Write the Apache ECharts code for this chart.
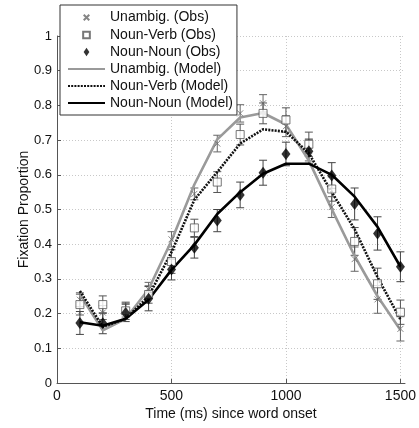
<!DOCTYPE html>
<html>
<head>
<meta charset="utf-8">
<script src="https://cdn.jsdelivr.net/npm/echarts@6/dist/echarts.min.js"></script>
<style>
html,body{margin:0;padding:0;background:#fff;}
#chart{width:419px;height:428px;}
</style>
</head>
<body>
<div id="chart"></div>
<script>
var times = [100,200,300,400,500,600,700,800,900,1000,1100,1200,1300,1400,1500];

var unambigObs = [0.24,0.203,0.21,0.27,0.414,0.545,0.69,0.777,0.806,0.74,0.67,0.507,0.357,0.241,0.156];
var nounVerbObs = [0.226,0.226,0.208,0.255,0.35,0.447,0.579,0.716,0.777,0.758,0.688,0.559,0.408,0.286,0.204];
var nounNounObs = [0.173,0.172,0.202,0.243,0.327,0.39,0.468,0.542,0.606,0.66,0.668,0.598,0.516,0.431,0.335];

var unambigErr = [0.02,0.02,0.02,0.02,0.022,0.017,0.024,0.025,0.025,0.03,0.03,0.03,0.035,0.04,0.035];
var nounVerbErr = [0.03,0.025,0.025,0.025,0.034,0.025,0.03,0.03,0.03,0.035,0.035,0.035,0.04,0.045,0.035];
var nounNounErr = [0.033,0.03,0.025,0.035,0.03,0.03,0.032,0.037,0.036,0.034,0.035,0.037,0.046,0.048,0.043];

var unambigModel = [0.255,0.152,0.185,0.27,0.41,0.572,0.702,0.765,0.778,0.745,0.641,0.501,0.366,0.25,0.153];
var nounVerbModel = [0.265,0.162,0.185,0.25,0.377,0.528,0.608,0.69,0.731,0.724,0.662,0.55,0.443,0.305,0.183];
var nounNounModel = [0.175,0.165,0.185,0.24,0.326,0.398,0.487,0.55,0.603,0.632,0.632,0.6,0.537,0.45,0.335];

var xTicks = [0,500,1000,1500];
var yTicks = [0,0.1,0.2,0.3,0.4,0.5,0.6,0.7,0.8,0.9,1];

var names = ['Unambig. (Obs)','Noun-Verb (Obs)','Noun-Noun (Obs)','Unambig. (Model)','Noun-Verb (Model)','Noun-Noun (Model)'];

function pairs(vals){ return times.map(function(t,i){ return [t, vals[i]]; }); }
function errData(vals, errs){ return times.map(function(t,i){ return [t, vals[i], errs[i]]; }); }

function errSeries(vals, errs, color){
  return {
    type:'custom', silent:true, z:3,
    data: errData(vals, errs),
    renderItem: function(params, api){
      var x = api.value(0), v = api.value(1), e = api.value(2);
      var top = api.coord([x, v+e]);
      var bot = api.coord([x, v-e]);
      var w = 4;
      var st = {stroke: color, lineWidth: 1, fill: null};
      return {type:'group', children:[
        {type:'line', shape:{x1:top[0], y1:top[1], x2:bot[0], y2:bot[1]}, style:st},
        {type:'line', shape:{x1:top[0]-w, y1:top[1], x2:top[0]+w, y2:top[1]}, style:st},
        {type:'line', shape:{x1:bot[0]-w, y1:bot[1], x2:bot[0]+w, y2:bot[1]}, style:st}
      ]};
    }
  };
}

var hidden = {color:'rgba(0,0,0,0)', borderColor:'rgba(0,0,0,0)', borderWidth:0};
var legendData = [
  {name:names[0], icon:'path://M-4,-4M0,0L10,10M0,10L10,0M14,14'},
  {name:names[1], icon:'path://M-2.5,-2.5M0,0L10,0L10,10L0,10ZM12.5,12.5'},
  {name:names[2], icon:'path://M4,-1M4,0L8,6L4,12L0,6ZM4,13'},
  {name:names[3], itemStyle:hidden},
  {name:names[4], itemStyle:hidden},
  {name:names[5], itemStyle:hidden}
];

var chart = echarts.init(document.getElementById('chart'), null, {renderer:'canvas'});
var font = 'Liberation Sans, Arial, sans-serif';
chart.setOption({
  animation:false,
  backgroundColor:'#fff',
  textStyle:{fontFamily:font},
  grid:{left:57, right:13, top:36, bottom:45, containLabel:false},
  legend:{
    data:legendData, orient:'vertical', left:60, top:5,
    itemWidth:37, itemHeight:10, itemGap:3,
    symbolKeepAspect:true,
    padding:[5,4,5,7],
    borderColor:'#333', borderWidth:1, backgroundColor:'#fff',
    textStyle:{fontSize:14, color:'#111', fontFamily:font},
    z:20
  },
  xAxis:{
    type:'value', min:0, max:1520,
    name:'Time (ms) since word onset', nameLocation:'middle', nameGap:24,
    nameMoveOverlap:false,
    nameTextStyle:{fontSize:14, color:'#111', fontFamily:font},
    axisLine:{show:true, onZero:false, lineStyle:{color:'#555', width:1}},
    axisTick:{show:true, inside:true, length:4, customValues:xTicks, lineStyle:{color:'#555'}},
    axisLabel:{fontSize:14, color:'#111', margin:6, customValues:xTicks, fontFamily:font,
      formatter:function(v){ return String(v); }},
    splitLine:{show:true, lineStyle:{color:'#c8c8c8', type:[1,2], width:1}}
  },
  yAxis:{
    type:'value', min:0, max:1, interval:0.1,
    name:'Fixation Proportion', nameLocation:'middle', nameGap:26,
    nameMoveOverlap:false,
    nameTextStyle:{fontSize:14, color:'#111', fontFamily:font},
    axisLine:{show:true, onZero:false, lineStyle:{color:'#555', width:1}},
    axisTick:{show:true, inside:true, length:4, lineStyle:{color:'#555'}},
    axisLabel:{fontSize:13, color:'#111', margin:5, fontFamily:font,
      formatter:function(v){ return String(Math.round(v*10)/10); }},
    splitLine:{show:true, lineStyle:{color:'#c8c8c8', type:[1,2], width:1}}
  },
  series:[
    {name:names[0], type:'scatter', z:5, data:pairs(unambigObs),
      symbol:'path://M0,0L10,10M0,10L10,0', symbolSize:6,
      itemStyle:{color:'none', borderColor:'#666', borderWidth:1}},
    {name:names[1], type:'scatter', z:5, data:pairs(nounVerbObs),
      symbol:'rect', symbolSize:8,
      itemStyle:{color:'#fff', borderColor:'#555', borderWidth:1}},
    {name:names[2], type:'scatter', z:6, data:pairs(nounNounObs),
      symbol:'diamond', symbolSize:[9,12],
      itemStyle:{color:'#000'}},
    {name:names[3], type:'line', z:4, data:pairs(unambigModel), symbol:'none',
      lineStyle:{color:'#9a9a9a', width:2.6}, itemStyle:{color:'#9a9a9a'}},
    {name:names[4], type:'line', z:4, data:pairs(nounVerbModel), symbol:'none',
      lineStyle:{color:'#111', width:2.6, type:[2,1.2]}, itemStyle:{color:'#111'}},
    {name:names[5], type:'line', z:4, data:pairs(nounNounModel), symbol:'none',
      lineStyle:{color:'#000', width:2.6}, itemStyle:{color:'#000'}},
    errSeries(unambigObs, unambigErr, '#666'),
    errSeries(nounVerbObs, nounVerbErr, '#555'),
    errSeries(nounNounObs, nounNounErr, '#444')
  ]
});
</script>
</body>
</html>
